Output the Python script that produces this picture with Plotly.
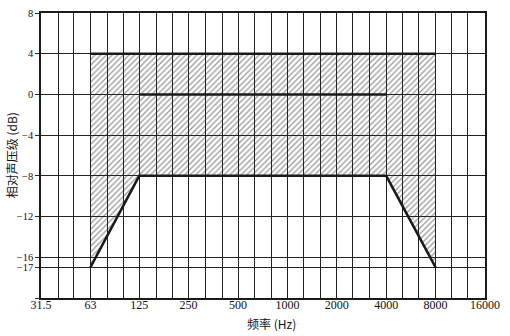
import plotly.graph_objects as go

# Octave band labels (Hz)
octave_freqs = [31.5, 63, 125, 250, 500, 1000, 2000, 4000, 8000, 16000]
octave_labels = ["31.5", "63", "125", "250", "500", "1000", "2000", "4000", "8000", "16000"]
# Third-octave grid frequencies
third_octave_freqs = [31.5, 40, 50, 63, 80, 100, 125, 160, 200, 250, 315, 400, 500, 630, 800,
                      1000, 1250, 1600, 2000, 2500, 3150, 4000, 5000, 6300, 8000, 10000,
                      12500, 16000]

# Y ticks (dB)
y_ticks = [8, 4, 0, -4, -8, -12, -16, -17, -20]
y_labels = ["8", "4", "0", "\u22124", "\u22128", "\u221212", "\u221216", "\u221217", ""]

# Tolerance limits
upper_x = [63, 8000]
upper_y = [4, 4]
lower_x = [63, 125, 4000, 8000]
lower_y = [-17, -8, -8, -17]
ref_x = [125, 4000]
ref_y = [0, 0]

poly_x = lower_x + upper_x[::-1] + [lower_x[0]]
poly_y = lower_y + upper_y[::-1] + [lower_y[0]]

fig = go.Figure()
fig.add_trace(go.Scatter(
    x=poly_x, y=poly_y, mode="lines", fill="toself",
    line=dict(width=0), fillcolor="rgba(255,255,255,0)",
    fillpattern=dict(shape="/", fgcolor="#2a2a2a", bgcolor="rgba(255,255,255,0)",
                     size=4, solidity=0.3),
    hoverinfo="skip", showlegend=False))
for xs, ys in [(upper_x, upper_y), (lower_x, lower_y), (ref_x, ref_y)]:
    fig.add_trace(go.Scatter(x=xs, y=ys, mode="lines",
                             line=dict(color="#1a1a1a", width=2.5),
                             showlegend=False))

tick_text_x = [octave_labels[octave_freqs.index(f)] if f in octave_freqs else "" for f in third_octave_freqs]

fig.update_xaxes(type="log", range=[1.4983, 4.2041],
                 tickmode="array", tickvals=third_octave_freqs, ticktext=tick_text_x,
                 showgrid=True, gridcolor="#222222", gridwidth=1.2,
                 showline=True, linecolor="#1a1a1a", linewidth=1.5, mirror=True,
                 ticks="", ticklabelstandoff=-5,
                 tickfont=dict(family="Liberation Serif", size=12, color="#111"),
                 zeroline=False)
fig.update_yaxes(range=[-20, 8], tickmode="array", tickvals=y_ticks, ticktext=y_labels,
                 showgrid=True, gridcolor="#222222", gridwidth=1.2,
                 showline=True, linecolor="#1a1a1a", linewidth=1.5, mirror=True,
                 ticks="outside", ticklen=4, tickcolor="#2a2a2a",
                 tickfont=dict(family="Liberation Serif", size=10.5, color="#111"),
                 zeroline=False)

fig.add_annotation(text="频率 (Hz)", xref="paper", yref="paper", x=0.52, y=-0.09,
                   yanchor="middle", showarrow=False,
                   font=dict(family="Noto Sans CJK SC", size=12, color="#111"))
fig.add_annotation(text="相对声压级 (dB)", xref="paper", yref="paper", x=-0.066, y=0.5,
                   xanchor="center", yanchor="middle", textangle=-90, showarrow=False,
                   font=dict(family="Noto Sans CJK SC", size=12, color="#111"))

fig.update_layout(width=510, height=336, margin=dict(l=41, r=25, t=8, b=38),
                  paper_bgcolor="white", plot_bgcolor="white")

fig.write_html("out.html")
